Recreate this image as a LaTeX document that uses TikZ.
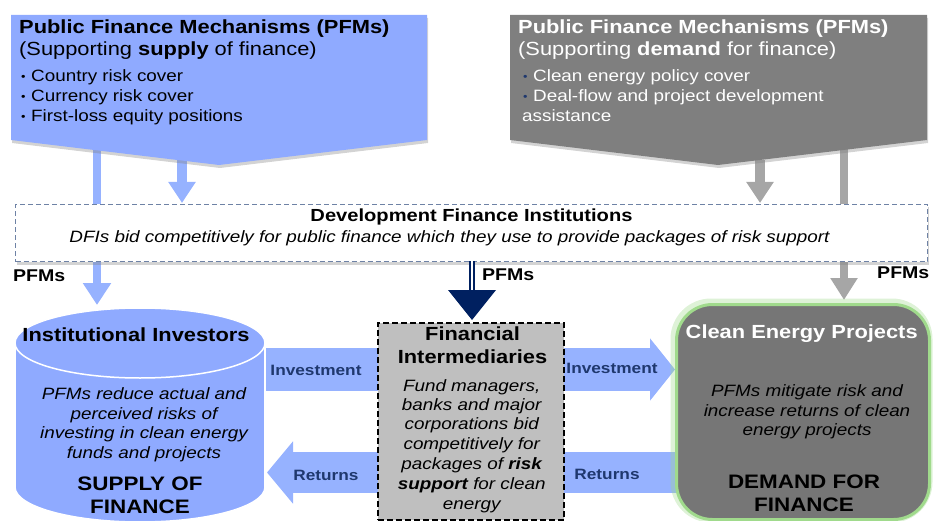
\documentclass[tikz,border=0pt]{standalone}
\usepackage{fontspec}
\setmainfont{Liberation Sans}[FakeStretch=1.15]
\usetikzlibrary{arrows.meta,shadows}
\definecolor{pfblue}{RGB}{143,170,255}
\definecolor{barblue}{RGB}{150,178,255}
\definecolor{pfgrey}{RGB}{127,127,127}
\definecolor{bargrey}{RGB}{166,166,166}
\definecolor{fibox}{RGB}{191,191,191}
\definecolor{cebox}{RGB}{118,118,118}
\definecolor{glow}{RGB}{160,218,140}
\definecolor{navytxt}{RGB}{31,56,110}
\definecolor{navyarr}{RGB}{0,32,96}
\definecolor{dfiline}{RGB}{110,130,165}
\newcommand{\bulA}[1][black]{\makebox[10pt][l]{\fontsize{11}{11}\selectfont\raisebox{1.5pt}{\textcolor{#1}{•}}}}
\begin{document}
\begin{tikzpicture}[x=1pt,y=-1pt,
  txt/.style={inner sep=0pt, anchor=base},
  txtl/.style={inner sep=0pt, anchor=base west},
  ttl/.style={font=\fontsize{19}{22}\selectfont\bfseries},
  sub/.style={font=\fontsize{19}{22}\selectfont},
  bul/.style={font=\fontsize{16.4}{19}\selectfont},
  body/.style={font=\fontsize{16.4}{19}\selectfont\itshape},
  big/.style={font=\fontsize{19.5}{22}\selectfont\bfseries},
  flow/.style={font=\fontsize{15}{18}\selectfont\bfseries, text=navytxt},
  pfm/.style={font=\fontsize{17}{20}\selectfont\bfseries},
  shad/.style={drop shadow={shadow xshift=1pt,shadow yshift=-3pt,opacity=0.35}},
  bluebar/.style={barblue, line width=#1},
  greybar/.style={bargrey, line width=#1},
]
\useasboundingbox (0,0) rectangle (933,521);

% arrows leaving the top chevrons
\coordinate (lb0) at (97,145);  \coordinate (lb1) at (97,305);
\coordinate (la0) at (182,160); \coordinate (la1) at (182,203);
\coordinate (ra0) at (760,160); \coordinate (ra1) at (760,203);
\coordinate (rb0) at (844,145); \coordinate (rb1) at (844,300);
\draw[bluebar=8pt, -{Triangle[width=27pt,length=22pt]}] (lb0) -- (lb1);
\draw[bluebar=10pt, -{Triangle[width=26pt,length=21pt]}] (la0) -- (la1);
\draw[greybar=10pt, -{Triangle[width=26pt,length=21pt]}] (ra0) -- (ra1);
\draw[greybar=8pt, -{Triangle[width=26pt,length=22pt]}] (rb0) -- (rb1);

% chevrons
\path[fill=pfblue, shad] (11,15) -- (427,15) -- (427,140) -- (219,165) -- (11,140) -- cycle;
\path[fill=pfgrey, shad] (510,15) -- (927,15) -- (927,140) -- (718,165) -- (510,140) -- cycle;

% DFI box
\node[draw=dfiline, dash pattern=on 5pt off 3pt, line width=1pt, fill=white,
      minimum width=912pt, minimum height=57pt, inner sep=0pt, shad, anchor=north west] (dfi) at (15,204) {};

% navy double arrow
\coordinate (n0) at (472,261); \coordinate (n1) at (472,292);
\draw[navyarr, double=white, double distance=2.5pt, line width=2pt] (n0) -- (n1);
\fill[navyarr] (448,290) -- (496,290) -- (472,320) -- cycle;

% flow arrows
\coordinate (iv0) at (240,369.5); \coordinate (iv1) at (395,369.5);
\coordinate (iv2) at (550,369.5); \coordinate (iv3) at (675,369.5);
\coordinate (rt0) at (700,472.5); \coordinate (rt1) at (550,472.5);
\coordinate (rt2) at (390,472.5); \coordinate (rt3) at (267,472.5);
\draw[bluebar=43pt] (iv0) -- (iv1);
\draw[bluebar=43pt, -{Triangle[width=61pt,length=25pt]}] (iv2) -- (iv3);
\draw[bluebar=41pt] (rt0) -- (rt1);
\draw[bluebar=41pt, -{Triangle[width=61pt,length=26pt]}] (rt2) -- (rt3);

% cylinder
\path[fill=pfblue, draw=white, line width=1.5pt] (140,487) ellipse [x radius=125, y radius=35];
\path[fill=pfblue] (15,343) rectangle (265,487);
\draw[white, line width=1.5pt] (15,343) -- (15,487) (265,343) -- (265,487);
\path[fill=pfblue, draw=white, line width=1.5pt] (140,343) ellipse [x radius=125, y radius=35];

% financial intermediaries box
\node[draw=black, dash pattern=on 6pt off 3pt, line width=1.5pt, fill=fibox,
      minimum width=186pt, minimum height=197pt, inner sep=0pt, anchor=north west] (fi) at (377,322) {};

% clean energy box
\draw[glow, line width=9pt, opacity=0.35, rounded corners=36pt] (675,303) rectangle (928,518);
\node[fill=cebox, draw=glow, line width=3pt, rounded corners=36pt,
      minimum width=253pt, minimum height=215pt, inner sep=0pt, anchor=north west] (ce) at (675,303) {};

% left chevron text
\node[txtl, ttl] (l1) at (19,34) {Public Finance Mechanisms (PFMs)};
\node[txtl, sub] (l2) at (19,56) {(Supporting \textbf{supply} of finance)};
\node[txtl, bul] (l3) at (21,82) {\bulA Country risk cover};
\node[txtl, bul] (l4) at (21,102) {\bulA Currency risk cover};
\node[txtl, bul] (l5) at (21,122) {\bulA First-loss equity positions};

% right chevron text
\node[txtl, ttl, text=white] (r1) at (518,34) {Public Finance Mechanisms (PFMs)};
\node[txtl, sub, text=white] (r2) at (518,56) {(Supporting \textbf{demand} for finance)};
\node[txtl, bul, text=white] (r3) at (523,82) {\bulA[navytxt]Clean energy policy cover};
\node[txtl, bul, text=white] (r4) at (523,102) {\bulA[navytxt]Deal-flow and project development};
\node[txtl, bul, text=white] (r5) at (522,122) {assistance};

% DFI text
\node[txt, font=\fontsize{17.5}{20}\selectfont\bfseries] (d1) at (471.5,222) {Development Finance Institutions};
\node[txt, body] (d2) at (449.5,243) {DFIs bid competitively for public finance which they use to provide packages of risk support};

% PFMs labels
\node[txtl, pfm] (p1) at (13,281) {PFMs};
\node[txtl, pfm] (p2) at (482,280) {PFMs};
\node[txtl, pfm] (p3) at (877,278) {PFMs};

% cylinder text
\node[txt, ttl] (c1) at (136,341) {Institutional Investors};
\node[txt, body] (c2) at (144,399) {PFMs reduce actual and};
\node[txt, body] (c3) at (144,419) {perceived risks of};
\node[txt, body] (c4) at (144,438) {investing in clean energy};
\node[txt, body] (c5) at (144,458) {funds and projects};
\node[txt, big] (c6) at (140,490) {SUPPLY OF};
\node[txt, big] (c7) at (140,513) {FINANCE};

% flow labels
\node[txt, flow] (f1) at (316,375) {Investment};
\node[txt, flow] (f2) at (612,373) {Investment};
\node[txt, flow] (f3) at (326,480) {Returns};
\node[txt, flow] (f4) at (607,479) {Returns};

% FI text
\node[txt, ttl] (i1) at (472.5,340) {Financial};
\node[txt, ttl] (i2) at (472.5,363) {Intermediaries};
\node[txt, body] (i3) at (471.7,391) {Fund managers,};
\node[txt, body] (i4) at (471.7,410) {banks and major};
\node[txt, body] (i5) at (471.7,429) {corporations bid};
\node[txt, body] (i6) at (471.7,449) {competitively for};
\node[txt, body] (i7) at (471.7,469) {packages of \textbf{risk}};
\node[txt, body] (i8) at (471.7,489) {\textbf{support} for clean};
\node[txt, body] (i9) at (471.7,509) {energy};

% CE text
\node[txt, ttl, text=white] (e1) at (801.7,338) {Clean Energy Projects};
\node[txt, body] (e2) at (807,396) {PFMs mitigate risk and};
\node[txt, body] (e3) at (807,416) {increase returns of clean};
\node[txt, body] (e4) at (807,435) {energy projects};
\node[txt, big] (e5) at (804,488) {DEMAND FOR};
\node[txt, big] (e6) at (804,511) {FINANCE};
\end{tikzpicture}
\end{document}
